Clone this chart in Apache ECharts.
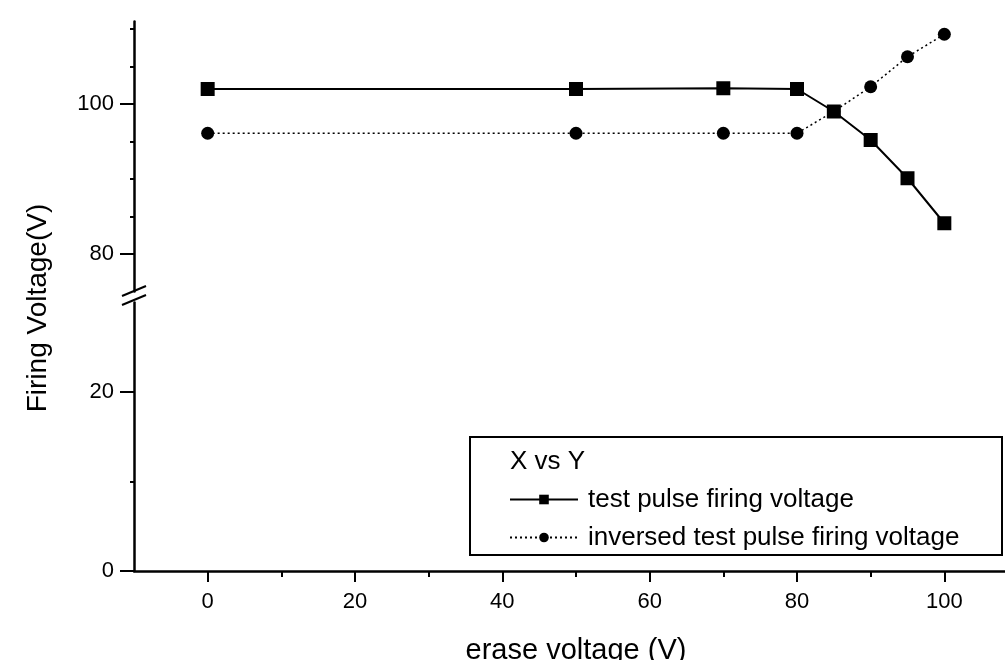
<!DOCTYPE html>
<html>
<head>
<meta charset="utf-8">
<script src="https://cdn.jsdelivr.net/npm/echarts@6/dist/echarts.min.js"></script>
<style>
html,body{margin:0;padding:0;background:#fff;}
#chart{width:1005px;height:660px;}
</style>
</head>
<body>
<div id="chart"></div>
<script>
// ---- data ----
var eraseVoltage = [0, 50, 70, 80, 85, 90, 95, 100];
var testPulse = [102, 102, 102.1, 102, 99, 95.2, 90.1, 84.1];
var inversedPulse = [96.1, 96.1, 96.1, 96.1, 99, 102.3, 106.3, 109.3];
var seriesNames = ['test pulse firing voltage', 'inversed test pulse firing voltage'];
var legendTitle = 'X vs Y';
var xMajorTicks = [0, 20, 40, 60, 80, 100];
var xMinorTicks = [10, 30, 50, 70, 90];
var yUpperMajor = [80, 100];
var yUpperMinor = [85, 90, 95, 105, 110];
var yLowerMajor = [0, 20];
var yLowerMinor = [10];
var xTitle = 'erase voltage (V)';
var yTitle = 'Firing Voltage(V)';

function pairs(xs, ys) { return xs.map(function (x, i) { return [x, ys[i]]; }); }

var FONT = '"Liberation Sans", Arial, Helvetica, sans-serif';
var chart = echarts.init(document.getElementById('chart'), null, {renderer: 'canvas'});

var axisLineStyle = {color: '#000', width: 2.5};
var tickLabel = {color: '#000', fontSize: 22, fontFamily: FONT};

function minorAxisX(grid, ticks) {
  return {type: 'value', gridIndex: grid, min: -10, max: 110, position: 'bottom',
    axisLine: {show: false, onZero: false},
    axisTick: {show: true, length: 6, customValues: ticks, lineStyle: {color: '#000', width: 2}},
    axisLabel: {show: false}, splitLine: {show: false}};
}
function yAxisDef(grid, min, max, major, minor, isMinor) {
  return {type: 'value', gridIndex: grid, min: min, max: max, position: 'left',
    axisLine: {show: !isMinor, onZero: false, lineStyle: axisLineStyle},
    axisTick: {show: true, length: isMinor ? 4 : 14, customValues: isMinor ? minor : major,
               lineStyle: {color: '#000', width: 2}},
    axisLabel: isMinor ? {show: false} :
      Object.assign({show: true, customValues: major, margin: 20}, tickLabel),
    splitLine: {show: false}};
}

var option = {
  backgroundColor: '#fff',
  animation: false,
  grid: [
    {left: 134, right: -13, top: 21.5, height: 270, containLabel: false, outerBoundsMode: 'none'},
    {left: 134, right: -13, top: 302.5, height: 268.5, containLabel: false, outerBoundsMode: 'none'}
  ],
  xAxis: [
    {type: 'value', gridIndex: 0, min: -10, max: 110, show: false},
    {type: 'value', gridIndex: 1, min: -10, max: 110, position: 'bottom',
     axisLine: {show: true, onZero: false, lineStyle: axisLineStyle},
     axisTick: {show: true, length: 11, customValues: xMajorTicks, lineStyle: {color: '#000', width: 2}},
     axisLabel: Object.assign({show: true, customValues: xMajorTicks, margin: 20}, tickLabel),
     splitLine: {show: false},
     name: xTitle, nameLocation: 'middle', nameGap: 65,
     nameTextStyle: {color: '#000', fontSize: 29, fontFamily: FONT}},
    minorAxisX(1, xMinorTicks)
  ],
  yAxis: [
    yAxisDef(0, 75, 111, yUpperMajor, yUpperMinor, false),
    yAxisDef(0, 75, 111, yUpperMajor, yUpperMinor, true),
    yAxisDef(1, 0, 30, yLowerMajor, yLowerMinor, false),
    yAxisDef(1, 0, 30, yLowerMajor, yLowerMinor, true)
  ],
  legend: {
    show: true,
    orient: 'vertical',
    left: 509, top: 486,
    padding: 0,
    itemGap: 11,
    itemWidth: 68, itemHeight: 12,
    textStyle: {color: '#000', fontSize: 26, fontFamily: FONT, lineHeight: 27, padding: [0, 0, 0, 5]},
    data: seriesNames
  },
  series: [
    {name: seriesNames[0], type: 'line', xAxisIndex: 0, yAxisIndex: 0,
     data: pairs(eraseVoltage, testPulse),
     symbol: 'rect', symbolSize: 14,
     lineStyle: {color: '#000', width: 2, type: 'solid'},
     itemStyle: {color: '#000'}, z: 3},
    {name: seriesNames[1], type: 'line', xAxisIndex: 0, yAxisIndex: 0,
     data: pairs(eraseVoltage, inversedPulse),
     symbol: 'circle', symbolSize: 13,
     lineStyle: {color: '#000', width: 1.5, type: [2, 3]},
     itemStyle: {color: '#000'}, z: 2}
  ],
  graphic: [
    {type: 'rect', shape: {x: 470, y: 437, width: 532, height: 118},
     style: {fill: 'none', stroke: '#000', lineWidth: 2}, z: 1},
    {type: 'text', x: 510, y: 462,
     style: {text: legendTitle, fill: '#000', fontSize: 26, fontFamily: FONT, textVerticalAlign: 'middle'}},
    {type: 'text', x: 38, y: 308, rotation: Math.PI / 2,
     style: {text: yTitle, fill: '#000', fontSize: 28, fontFamily: FONT, textAlign: 'center', textVerticalAlign: 'middle'}},
    {type: 'line', shape: {x1: 122, y1: 296, x2: 146, y2: 286}, style: {stroke: '#000', lineWidth: 2}},
    {type: 'line', shape: {x1: 122, y1: 305, x2: 146, y2: 295}, style: {stroke: '#000', lineWidth: 2}}
  ]
};
chart.setOption(option);
</script>
</body>
</html>
